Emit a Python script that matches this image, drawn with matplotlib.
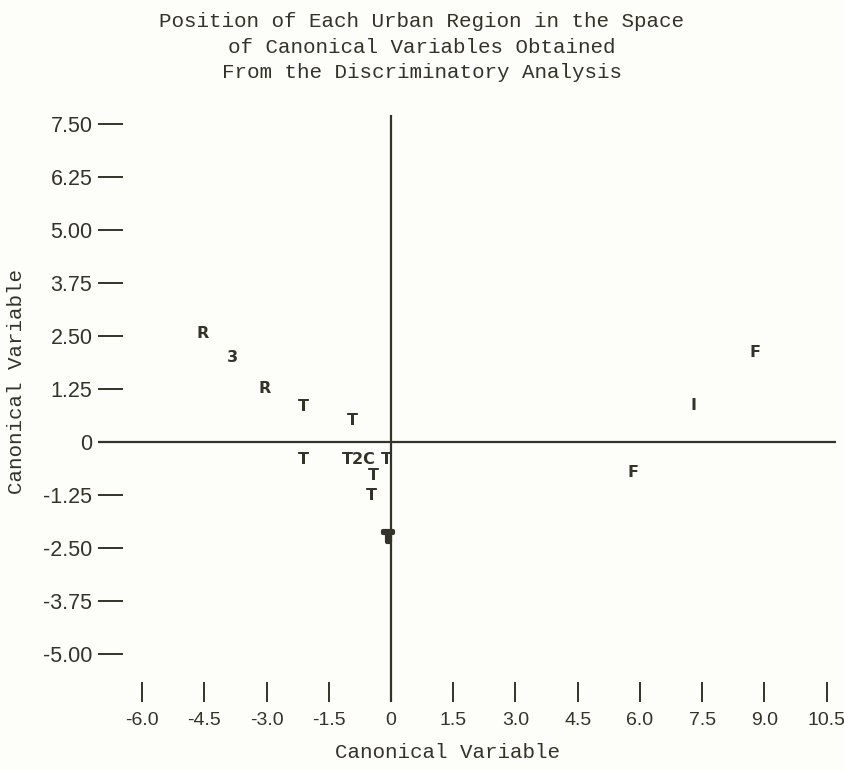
import matplotlib
matplotlib.use("Agg")
import matplotlib.pyplot as plt
import matplotlib.patheffects as pe

# ---- data ----
point_x = [-4.53, -3.83, -3.04, -2.10, -0.92, -2.12, -0.78, -0.43, -0.48, -0.10, -0.07, 5.83, 7.30, 8.77]
point_y = [2.57, 2.00, 1.27, 0.83, 0.50, -0.42, -0.42, -0.78, -1.25, -0.42, -2.26, -0.73, 0.87, 2.12]
point_labels = ['R', '3', 'R', 'T', 'T', 'T', 'T2C', 'T', 'T', 'T', 'T', 'F', 'I', 'F']
point_bold = [False]*10 + [True] + [False]*3

x_ticks = [-6.0, -4.5, -3.0, -1.5, 0, 1.5, 3.0, 4.5, 6.0, 7.5, 9.0, 10.5]
x_tick_labels = ['-6.0', '-4.5', '-3.0', '-1.5', '0', '1.5', '3.0', '4.5', '6.0', '7.5', '9.0', '10.5']
y_ticks = [7.50, 6.25, 5.00, 3.75, 2.50, 1.25, 0, -1.25, -2.50, -3.75, -5.00]
y_tick_labels = ['7.50', '6.25', '5.00', '3.75', '2.50', '1.25', '0', '-1.25', '-2.50', '-3.75', '-5.00']

title = "Position of Each Urban Region in the Space\nof Canonical Variables Obtained\nFrom the Discriminatory Analysis"
x_label = "Canonical Variable"
y_label = "Canonical Variable"

ink = '#34332a'
bg = '#fdfdfa'

W, H = 845, 770
fig = plt.figure(figsize=(W/100, H/100), dpi=100, facecolor=bg)

left_px, right_px, top_px, bot_px = 98, 836, 115, 702
ax = fig.add_axes([left_px/W, 1 - bot_px/H, (right_px-left_px)/W, (bot_px-top_px)/H])
ax.set_facecolor(bg)
x0, sx = 391, 41.5
y0, sy = 442, 42.4
ax.set_xlim((left_px-x0)/sx, (right_px-x0)/sx)
ax.set_ylim((y0-bot_px)/sy, (y0-top_px)/sy)

for s in ax.spines.values():
    s.set_visible(False)

ax.axhline(0, color=ink, lw=1.6)
ax.axvline(0, color=ink, lw=1.6)

ax.set_xticks(x_ticks)
ax.set_xticklabels(x_tick_labels, fontfamily='Liberation Sans', fontsize=14, color=ink)
ax.set_yticks(y_ticks)
ax.set_yticklabels(y_tick_labels, fontfamily='Liberation Sans', fontsize=15.5, color=ink)
ax.tick_params(axis='x', direction='in', length=14.5, width=1.4, color=ink, pad=7)
ax.tick_params(axis='y', direction='in', length=18, width=1.4, color=ink, pad=4)

for x, y, t, b in zip(point_x, point_y, point_labels, point_bold):
    txt = ax.text(x, y, t, ha='center', va='center', fontsize=11.5,
                  fontfamily='Liberation Sans Narrow', fontweight='bold', color=ink)
    if b:
        txt.set_path_effects([pe.withStroke(linewidth=3, foreground=ink)])

ax.set_xlabel(x_label, fontfamily='Liberation Mono', fontsize=15, color=ink)
ax.xaxis.set_label_coords((448-left_px)/(right_px-left_px), -(752-bot_px)/(bot_px-top_px))
ax.xaxis.label.set_va('center')
ax.set_ylabel(y_label, fontfamily='Liberation Mono', fontsize=15, color=ink)
ax.yaxis.set_label_coords(-(98-17)/(right_px-left_px), (bot_px-381)/(bot_px-top_px))
ax.yaxis.label.set_va('center')

fig.text(422/W, 1 - 12/H, title, ha='center', va='top', fontfamily='Liberation Mono',
         fontsize=15, color=ink, linespacing=1.45)

fig.savefig('out.png', dpi=100, facecolor=bg)
